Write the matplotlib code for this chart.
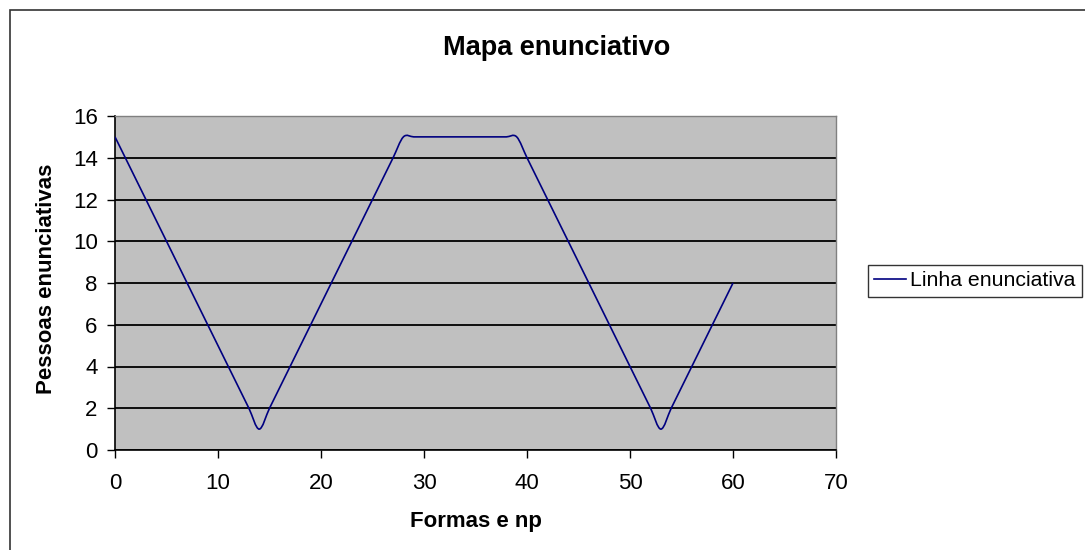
import numpy as np
import matplotlib
matplotlib.use("Agg")
import matplotlib.pyplot as plt
from matplotlib.path import Path
from matplotlib.patches import PathPatch, Rectangle
from matplotlib.lines import Line2D

plt.rcParams['font.family'] = ['Liberation Sans', 'DejaVu Sans']

title = "Mapa enunciativo"
xlabel = "Formas e np"
ylabel = "Pessoas enunciativas"
series_name = "Linha enunciativa"

x_vals = list(range(0, 61))
y_vals = [15, 14, 13, 12, 11, 10, 9, 8, 7, 6, 5, 4, 3, 2, 1,
          2, 3, 4, 5, 6, 7, 8, 9, 10, 11, 12, 13, 14, 15,
          15, 15, 15, 15, 15, 15, 15, 15, 15, 15, 15,
          14, 13, 12, 11, 10, 9, 8, 7, 6, 5, 4, 3, 2, 1,
          2, 3, 4, 5, 6, 7, 8]

x_ticks = [0, 10, 20, 30, 40, 50, 60, 70]
y_ticks = [0, 2, 4, 6, 8, 10, 12, 14, 16]

W, H = 1085, 550
fig = plt.figure(figsize=(W / 100, H / 100), dpi=100)
fig.patch.set_facecolor('white')

# chart area border
fig.patches.append(Rectangle((10 / W, 0 - 0.01), 1.1, (H - 10) / H + 0.01,
                             transform=fig.transFigure, fill=False,
                             edgecolor='#333333', linewidth=1.2))

ax = fig.add_axes([115 / W, (H - 450) / H, (836 - 115) / W, (450 - 116) / H])
ax.set_facecolor('#C0C0C0')
ax.set_xlim(0, 70)
ax.set_ylim(0, 16)

# smoothed line (Catmull-Rom style Bezier, as in Excel smoothing)
xs = np.array(x_vals, dtype=float)
ys = np.array(y_vals, dtype=float)
verts = [(xs[0], ys[0])]
codes = [Path.MOVETO]
n = len(xs)
for i in range(n - 1):
    p0 = (xs[max(i - 1, 0)], ys[max(i - 1, 0)])
    p1 = (xs[i], ys[i])
    p2 = (xs[i + 1], ys[i + 1])
    p3 = (xs[min(i + 2, n - 1)], ys[min(i + 2, n - 1)])
    c1 = (p1[0] + (p2[0] - p0[0]) / 6, p1[1] + (p2[1] - p0[1]) / 6)
    c2 = (p2[0] - (p3[0] - p1[0]) / 6, p2[1] - (p3[1] - p1[1]) / 6)
    verts += [c1, c2, p2]
    codes += [Path.CURVE4] * 3
ax.add_patch(PathPatch(Path(verts, codes), fill=False, edgecolor='#000080',
                       linewidth=1.2, zorder=3))

ax.set_xticks(x_ticks)
ax.set_yticks(y_ticks)
ax.grid(axis='y', color='black', linewidth=1.3)
ax.set_axisbelow(True)
ax.tick_params(axis='both', direction='out', length=5.5, width=1, labelsize=16,
               colors='black')
ax.tick_params(axis='x', pad=11)
ax.tick_params(axis='y', pad=7)

for side in ['top', 'right']:
    ax.spines[side].set_color('#808080')
    ax.spines[side].set_linewidth(1)
for side in ['left', 'bottom']:
    ax.spines[side].set_color('black')
    ax.spines[side].set_linewidth(1.2)

fig.text(476 / W, 1 - 522 / H, xlabel, fontsize=16, fontweight='bold',
         ha='center', va='center')
fig.text(47 / W, 1 - 279 / H, ylabel, fontsize=16, fontweight='bold',
         ha='center', va='center', rotation=90)
fig.text(557 / W, 1 - 48 / H, title, fontsize=19.5, fontweight='bold',
         ha='center', va='center')

handle = Line2D([], [], color='#000080', linewidth=1.2)
leg = fig.legend([handle], [series_name], loc='upper left',
                 bbox_to_anchor=(868 / W, 1 - 265 / H), fontsize=15.3,
                 frameon=True, fancybox=False, edgecolor='black',
                 handlelength=1.5, handletextpad=0.2, borderpad=0.3,
                 borderaxespad=0)
leg.get_frame().set_linewidth(1)

fig.savefig("out.png", dpi=100)
